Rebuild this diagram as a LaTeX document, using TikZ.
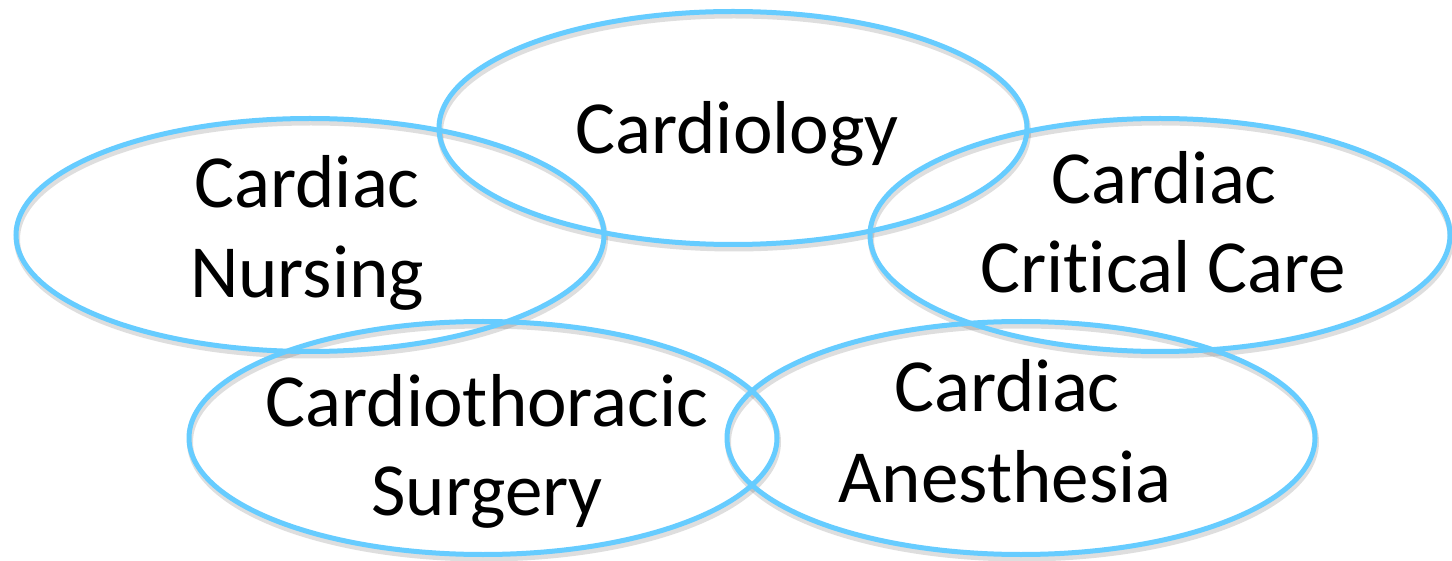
\documentclass[tikz,border=0pt]{standalone}
\usepackage{fontspec}
\setmainfont[Ligatures=NoCommon]{Carlito}
\usetikzlibrary{shapes.geometric}
\definecolor{ringblue}{HTML}{66CCFF}
\tikzset{
  ring/.style={ellipse, draw=ringblue, line width=5pt, inner sep=0pt, outer sep=0pt,
    minimum width=588pt, minimum height=233pt},
  ringshadow/.style={draw=black, draw opacity=0.13, line width=6pt},
  lbl/.style={anchor=base, inner sep=0pt, font=\fontsize{75}{90}\selectfont, text=black}
}
\begin{document}
\begin{tikzpicture}[x={(1pt,0)}, y={(0,-1pt)}]
\useasboundingbox (0,0) rectangle (1452,561);
\fill[white] (0,0) rectangle (1452,561);
% soft shadows
\foreach \cx/\cy/\rx in {733/128/294, 310/235/294, 1160/235/290, 483/438/294, 1021/438/294}
  \path[ringshadow] (\cx+1,\cy+4) ellipse [x radius=\rx pt, y radius=116.5pt];
% rings
\node[ring] (cardio) at (733,128) {};
\node[ring] (nurs) at (310,235) {};
\node[ring, minimum width=580pt] (crit) at (1160,235) {};
\node[ring] (surg) at (483,438) {};
\node[ring] (anes) at (1021,438) {};
% labels
\node[lbl] (tcardio) at (737,154) {Cardiology};
\node[lbl] (tnurs1) at (307,208) {Cardiac};
\node[lbl] (tnurs2) at (307,298) {Nursing};
\node[lbl] (tcrit1) at (1164,204) {Cardiac};
\node[lbl] (tcrit2) at (1163,293) {Critical Care};
\node[lbl] (tsurg1) at (487,427) {Cardiothoracic};
\node[lbl] (tsurg2) at (487,515) {Surgery};
\node[lbl] (tanes1) at (1007,412) {Cardiac};
\node[lbl] (tanes2) at (1005,502) {Anesthesia};
\end{tikzpicture}
\end{document}
